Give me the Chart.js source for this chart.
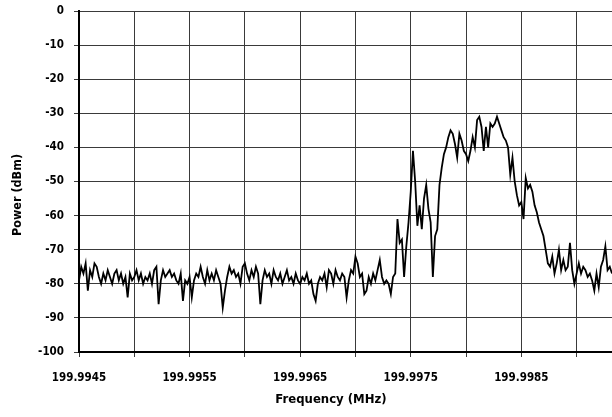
<!DOCTYPE html>
<html>
<head>
<meta charset="utf-8">
<script src="https://cdn.jsdelivr.net/npm/chart.js@4.4.1/dist/chart.umd.min.js"></script>
<style>
  html, body { margin: 0; padding: 0; background: #fff; }
  #wrap { width: 612px; height: 417px; }
</style>
</head>
<body>
<div id="wrap"><canvas id="spectrumChart" width="612" height="417"></canvas></div>
<script>
// sweep: first frequency and spacing of the samples (MHz)
const freqStart = 199.9945;
const freqStep = 0.00002;

// power (dBm), one value per sample
const powerDbm = [
  -79, -75, -77, -74, -82, -76, -78, -74, -75, -78,
  -80, -77, -79, -76, -78, -80, -77, -76, -79, -77,
  -80, -78, -84, -77, -79, -78, -76, -79, -77, -80,
  -78, -79, -77, -80, -76, -75, -86, -79, -76, -78,
  -77, -76, -78, -77, -79, -80, -77, -85, -79, -80,
  -78, -84, -79, -77, -78, -75, -78, -80, -76, -79,
  -77, -79, -76, -78, -80, -87, -82, -78, -75, -77,
  -76, -78, -77, -80, -75, -74, -77, -79, -76, -78,
  -75, -77, -86, -79, -76, -78, -77, -80, -76, -78,
  -79, -77, -80, -78, -76, -79, -78, -80, -77, -79,
  -80, -78, -79, -77, -80, -79, -83, -85, -80, -78,
  -79, -77, -81, -76, -77, -80, -76, -78, -79, -77,
  -78, -84, -79, -76, -77, -72, -74, -78, -77, -83,
  -82, -78, -80, -77, -79, -76, -73, -78, -80, -79,
  -80, -83, -78, -77, -61, -68, -67, -78, -69, -62,
  -53, -41, -50, -63, -57, -64, -55, -51, -58, -62,
  -78, -66, -64, -51, -46, -42, -40, -37, -35, -36,
  -39, -43, -36, -38, -41, -42, -44, -41, -37, -40,
  -32, -31, -34, -41, -34, -40, -33, -34, -33, -31,
  -33, -35, -37, -38, -40, -48, -43, -50, -54, -57,
  -56, -61, -49, -52, -51, -53, -57, -59, -62, -64,
  -66, -70, -74, -75, -72, -77, -74, -70, -76, -73,
  -76, -75, -68, -76, -80, -77, -74, -77, -75, -76,
  -78, -77, -79, -82, -77, -81, -75, -73, -69, -76,
  -75, -77
];

// vertical grid lines and their labels (every other one is labelled)
const xGridValues = [199.9945, 199.995, 199.9955, 199.996, 199.9965, 199.997, 199.9975, 199.998, 199.9985, 199.999];
const xTickLabels = ['199.9945', '', '199.9955', '', '199.9965', '', '199.9975', '', '199.9985', ''];

const xMin = 199.9945;
const xMax = 199.99932;

const points = powerDbm.map((p, i) => ({ x: freqStart + i * freqStep, y: p }));

const fontFamily = '"DejaVu Sans Condensed", "Liberation Sans", sans-serif';

// axis titles, placed where the original has them
const axisTitles = {
  id: 'axisTitles',
  afterDraw(chart) {
    const c = chart.ctx;
    c.save();
    c.fillStyle = '#000';
    c.textAlign = 'center';
    c.textBaseline = 'middle';
    c.font = 'bold 13px ' + fontFamily;
    c.fillText('Frequency (MHz)', 331, 400);
    c.translate(18, 195);
    c.rotate(-Math.PI / 2);
    c.font = 'bold 12.5px ' + fontFamily;
    c.fillText('Power (dBm)', 0, 0);
    c.restore();
  }
};

const ctx = document.getElementById('spectrumChart').getContext('2d');
const spectrumChart = new Chart(ctx, {
  type: 'line',
  data: {
    datasets: [{
      label: 'Power',
      data: points,
      borderColor: '#000',
      borderWidth: 1.8,
      pointRadius: 0,
      tension: 0,
      fill: false
    }]
  },
  options: {
    responsive: false,
    animation: false,
    layout: { padding: { top: 11, right: 0, left: 0, bottom: 0 } },
    plugins: {
      legend: { display: false },
      tooltip: { enabled: false }
    },
    scales: {
      x: {
        type: 'linear',
        min: xMin,
        max: xMax,
        afterBuildTicks: scale => {
          scale.ticks = xGridValues.map(v => ({ value: v }));
        },
        afterFit: scale => {
          scale.height = 65;
          scale.paddingLeft = 0;
          scale.paddingRight = 0;
        },
        ticks: {
          autoSkip: false,
          maxRotation: 0,
          color: '#000',
          padding: 14,
          font: { family: fontFamily, size: 11.5, weight: 'bold' },
          callback: (value, index) => xTickLabels[index]
        },
        grid: { color: '#3a3a3a', lineWidth: 1, tickLength: 5 },
        border: { color: '#000', width: 2 }
      },
      y: {
        min: -100,
        max: 0,
        afterFit: scale => {
          scale.width = 79;
          scale.paddingTop = 0;
          scale.paddingBottom = 0;
        },
        ticks: {
          stepSize: 10,
          color: '#000',
          padding: 10,
          font: { family: fontFamily, size: 11.5, weight: 'bold' }
        },
        grid: { color: '#3a3a3a', lineWidth: 1, tickLength: 5 },
        border: { color: '#000', width: 2 }
      }
    }
  },
  plugins: [axisTitles]
});
</script>
</body>
</html>
